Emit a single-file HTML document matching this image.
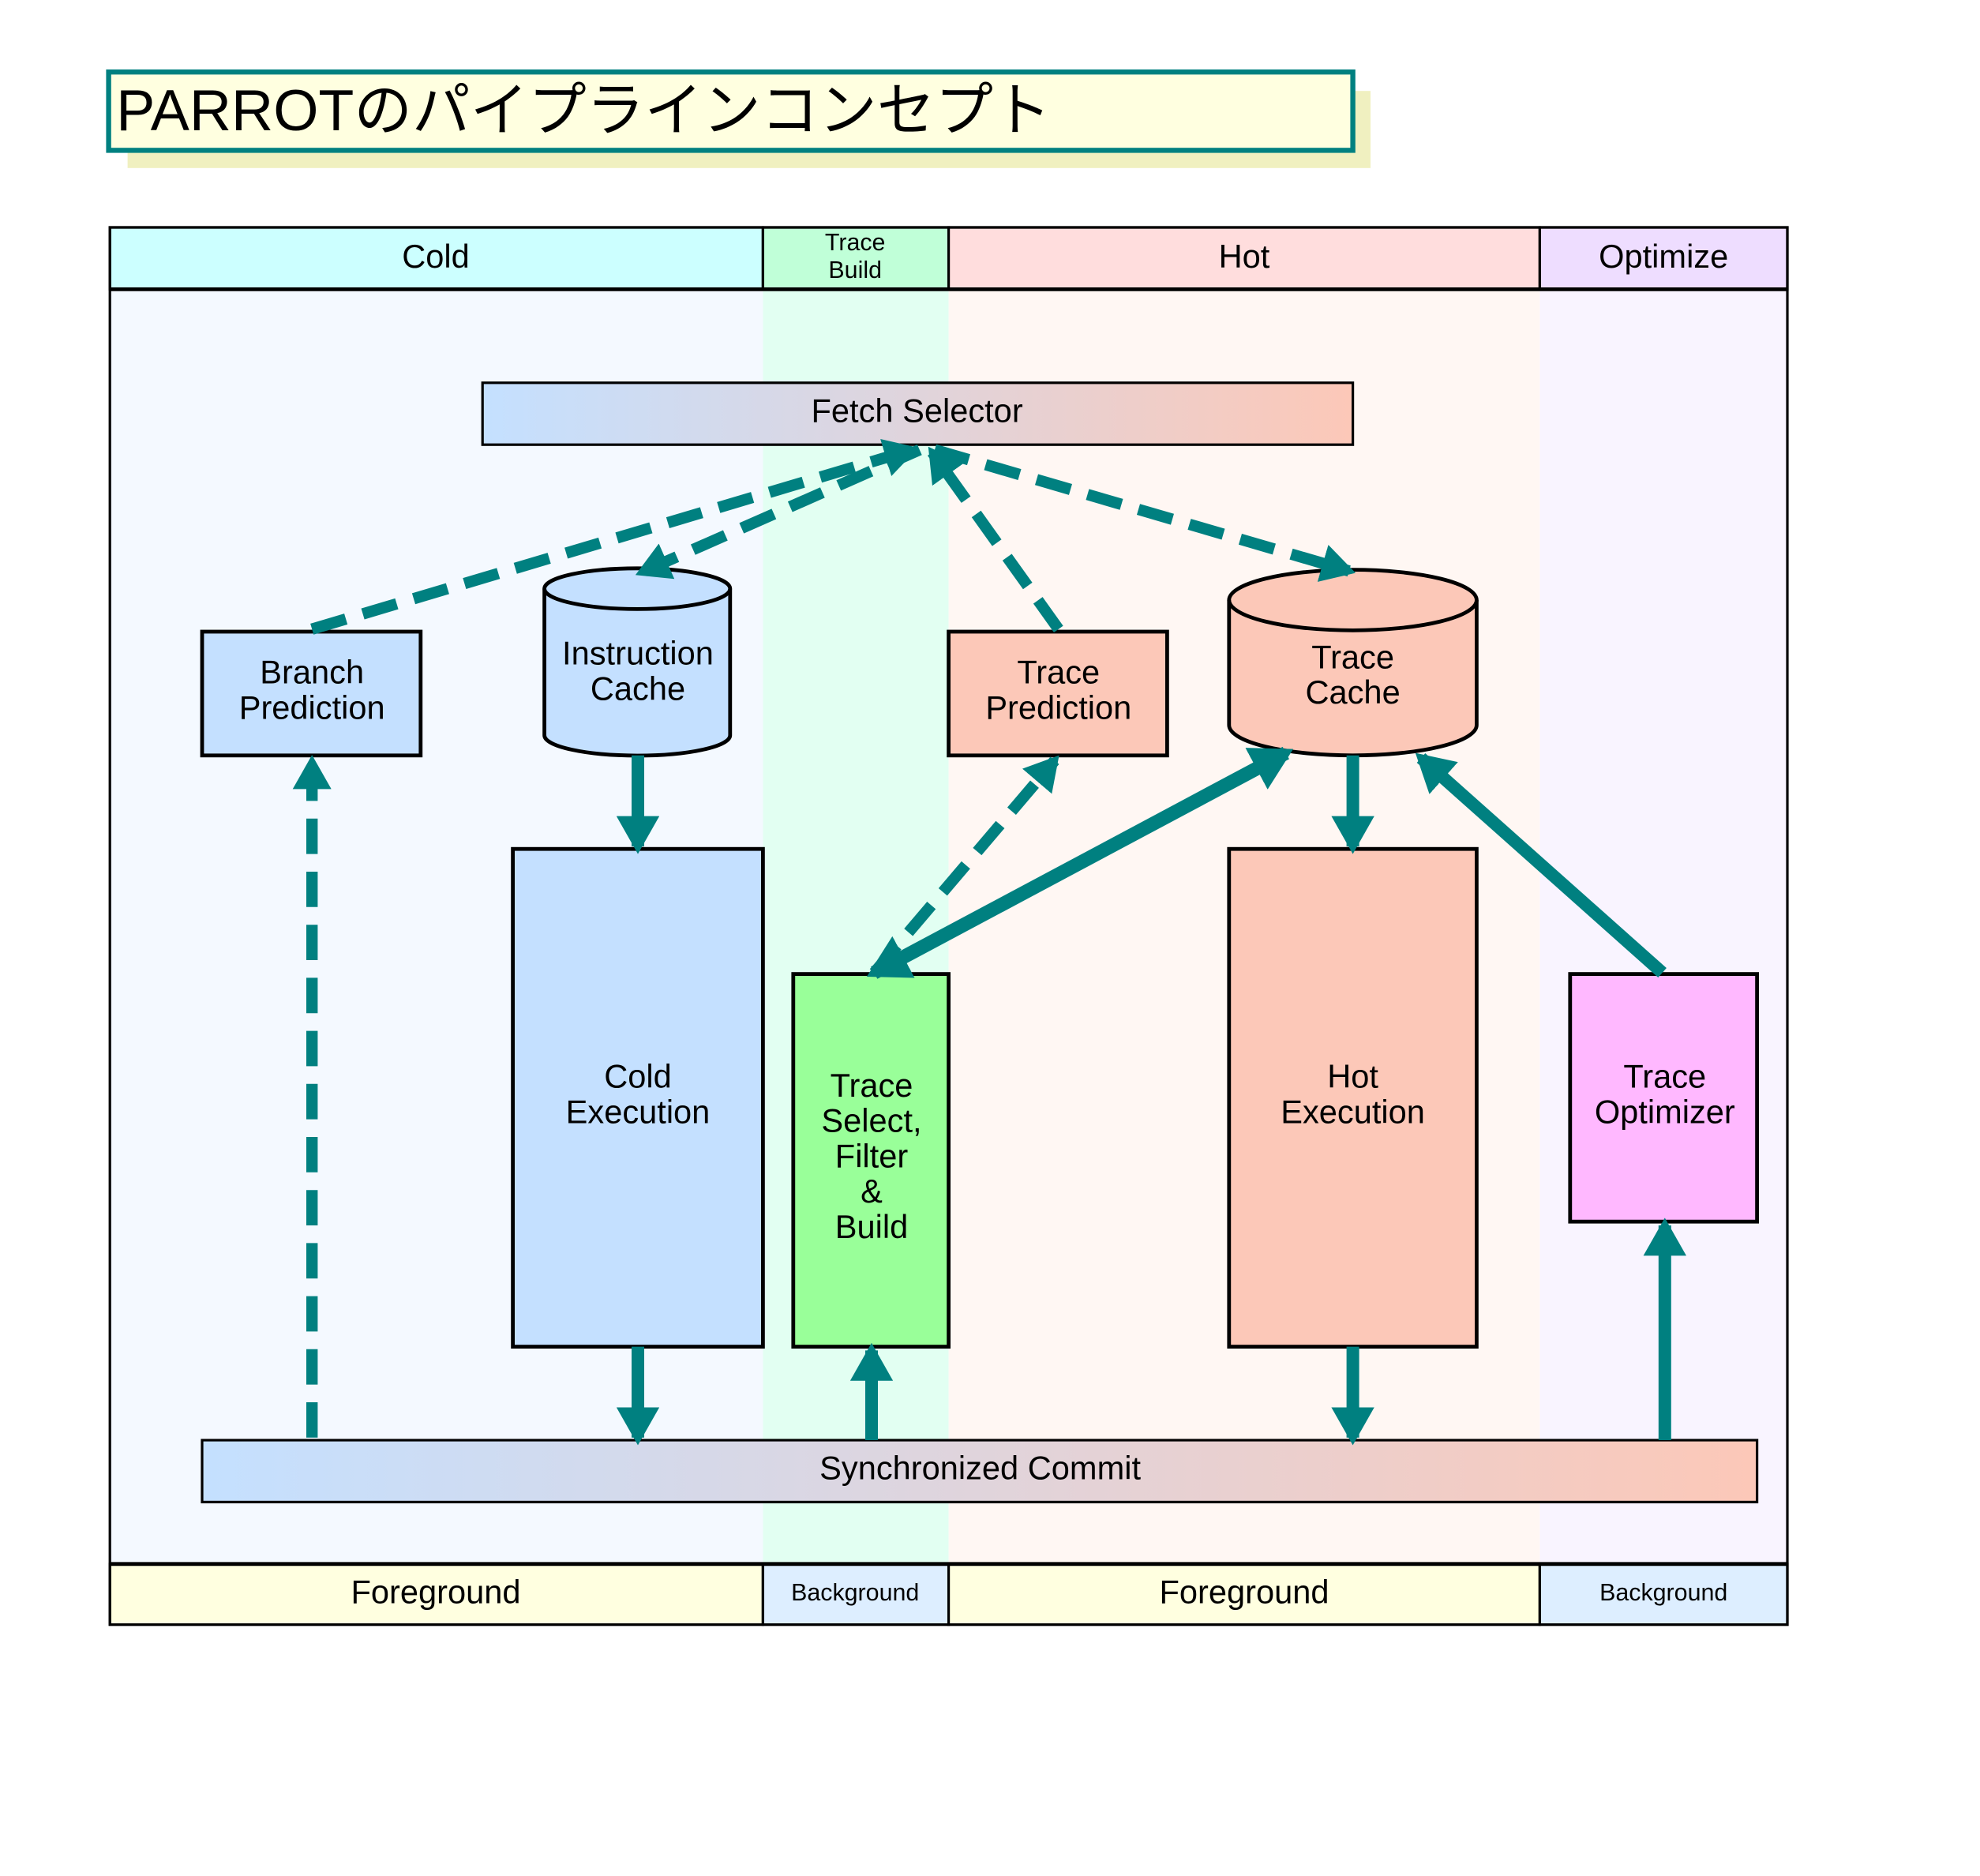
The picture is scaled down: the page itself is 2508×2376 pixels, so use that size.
<!DOCTYPE html>
<html><head><meta charset="utf-8"><style>
html,body{margin:0;padding:0;background:#fff}
svg{display:block}
text{font-family:"Liberation Sans","Noto Sans CJK JP",sans-serif;fill:#000}
</style></head><body>
<svg width="2508" height="2376" viewBox="0 0 1567.5 1485" xmlns="http://www.w3.org/2000/svg">
<defs>
<linearGradient id="g" x1="0" x2="1" y1="0" y2="0"><stop offset="0" stop-color="#c4e0ff"/><stop offset="1" stop-color="#fcc8b8"/></linearGradient>
<marker id="a" markerWidth="3" markerHeight="3.4" refX="2.4" refY="1.7" orient="auto" markerUnits="strokeWidth"><path d="M0,0 L3,1.7 L0,3.4 Z" fill="#008080"/></marker>
<marker id="b" markerWidth="3" markerHeight="3.4" refX="0.6" refY="1.7" orient="auto" markerUnits="strokeWidth"><path d="M3,0 L0,1.7 L3,3.4 Z" fill="#008080"/></marker>
</defs>
<rect x="101" y="72" width="984" height="61" fill="#f0f0c0"/>
<rect x="86" y="57" width="985" height="62" fill="#ffffe0" stroke="#008080" stroke-width="4"/>
<text x="92" y="103" font-size="46">PARROTのパイプラインコンセプト</text>

<rect x="87" y="229" width="517" height="1009" fill="#f4f9ff"/>
<rect x="604" y="229" width="147" height="1009" fill="#e2fff2"/>
<rect x="751" y="229" width="468" height="1009" fill="#fff7f3"/>
<rect x="1219" y="229" width="196" height="1009" fill="#f9f4ff"/>
<g stroke="#000" stroke-width="2">
<rect x="87" y="180" width="517" height="49" fill="#ccffff"/>
<rect x="604" y="180" width="147" height="49" fill="#c0ffd8"/>
<rect x="751" y="180" width="468" height="49" fill="#ffdddd"/>
<rect x="1219" y="180" width="196" height="49" fill="#eeddff"/>
<rect x="87" y="1238" width="517" height="48" fill="#ffffe0"/>
<rect x="604" y="1238" width="147" height="48" fill="#ddeeff"/>
<rect x="751" y="1238" width="468" height="48" fill="#ffffe0"/>
<rect x="1219" y="1238" width="196" height="48" fill="#ddeeff"/>
<rect x="87" y="180" width="1328" height="1106" fill="none"/>
<path d="M87,229 H1415 M87,1238 H1415" stroke-width="3"/>
</g>
<g font-size="26" text-anchor="middle">
<text x="345" y="212">Cold</text>
<text x="985" y="212">Hot</text>
<text x="1317" y="212">Optimize</text>
<text x="345" y="1269">Foreground</text>
<text x="985" y="1269">Foreground</text>
</g>
<g font-size="19" text-anchor="middle">
<text x="677" y="198">Trace</text><text x="677" y="220">Build</text>
<text x="677" y="1267">Background</text><text x="1317" y="1267">Background</text>
</g>

<g stroke="#000" stroke-width="3">
<rect x="382" y="303" width="689" height="49" fill="url(#g)" stroke-width="2"/>
<rect x="160" y="1140" width="1231" height="49" fill="url(#g)" stroke-width="2"/>
<rect x="160" y="500" width="173" height="98" fill="#c4e0ff"/>
<rect x="751" y="500" width="173" height="98" fill="#fcc8b8"/>
<rect x="406" y="672" width="198" height="394" fill="#c4e0ff"/>
<rect x="628" y="771" width="123" height="295" fill="#99ff99"/>
<rect x="973" y="672" width="196" height="394" fill="#fcc8b8"/>
<rect x="1243" y="771" width="148" height="196" fill="#ffb8ff"/>
<path d="M431,466 V582 A73,16 0 0 0 578,582 V466 A73,16 0 0 0 431,466 Z" fill="#c4e0ff"/>
<path d="M431,466 A73,16 0 0 0 578,466" fill="none"/>
<path d="M973,475 V574 A98,24 0 0 0 1169,574 V475 A98,24 0 0 0 973,475 Z" fill="#fcc8b8"/>
<path d="M973,475 A98,24 0 0 0 1169,475" fill="none"/>
</g>
<g font-size="26" text-anchor="middle">
<text x="726" y="334">Fetch Selector</text>
<text x="776" y="1171">Synchronized Commit</text>
<text x="247" y="541">Branch</text><text x="247" y="569">Prediction</text>
<text x="838" y="541">Trace</text><text x="838" y="569">Prediction</text>
<text x="505" y="526">Instruction</text><text x="505" y="554">Cache</text>
<text x="1071" y="529">Trace</text><text x="1071" y="557">Cache</text>
<text x="505" y="861">Cold</text><text x="505" y="889">Execution</text>
<text x="1071" y="861">Hot</text><text x="1071" y="889">Execution</text>
<text x="1318" y="861">Trace</text><text x="1318" y="889">Optimizer</text>
<text x="690" y="868">Trace</text><text x="690" y="896">Select,</text><text x="690" y="924">Filter</text><text x="690" y="952">&amp;</text><text x="690" y="980">Build</text>
</g>

<g stroke="#008080" fill="none">
<g stroke-width="9" stroke-dasharray="28,14">
<path d="M247,498 L722,356" marker-end="url(#a)"/>
<path d="M728,356 L508,453" marker-end="url(#a)"/>
<path d="M838,498 L738,358" marker-end="url(#a)"/>
<path d="M740,356 L1068,452" marker-end="url(#a)"/>
<path d="M247,1138 L247,603" marker-end="url(#a)"/>
<path d="M692,770 L835,602" marker-end="url(#a)"/>
</g>
<g stroke-width="10">
<path d="M505,598 L505,670" marker-end="url(#a)"/>
<path d="M1071,598 L1071,670" marker-end="url(#a)"/>
<path d="M505,1066 L505,1138" marker-end="url(#a)"/>
<path d="M1071,1066 L1071,1138" marker-end="url(#a)"/>
<path d="M690,1140 L690,1069" marker-end="url(#a)"/>
<path d="M1318,1140 L1318,970" marker-end="url(#a)"/>
<path d="M1316,770 L1125,600" marker-end="url(#a)"/>
<path d="M692,770 L1018,596" stroke-width="11" marker-end="url(#a)" marker-start="url(#b)"/>
</g>
</g>
</svg>
</body></html>
